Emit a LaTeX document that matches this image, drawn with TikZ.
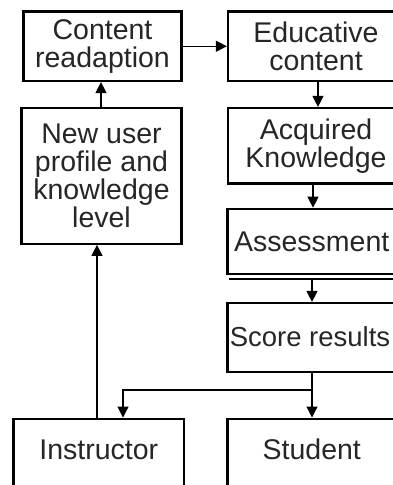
\documentclass[tikz,border=0pt]{standalone}
\usepackage{fontspec}
\setmainfont{Liberation Sans}
\usetikzlibrary{arrows.meta,calc}
\begin{document}
\begin{tikzpicture}[x=1pt,y=-1pt,
  box/.style={draw=black, line width=2.2pt, rectangle, inner sep=0pt, align=center,
    font=\fontsize{28.5}{28}\selectfont, text=black!85},
  arr/.style={draw=black, line width=1.2pt, -{Triangle[length=11pt,width=11pt]}},
  shadowline/.style={draw=black, line width=2pt}]
\useasboundingbox (0,0) rectangle (393,485);
\clip (0,0) rectangle (393,485);
\fill[white] (0,0) rectangle (393,485);
% boxes
\node[box, minimum width=158pt, minimum height=69.5pt] (cr) at (102.5,46.25) {Content\\readaption};
\node[box, minimum width=176pt, minimum height=69.5pt] (ec) at (316,46.25) {Educative\\content};
\node[box, minimum width=160pt, minimum height=136pt] (nu) at (101.5,175.75) {New user\\profile and\\knowledge\\level};
\node[box, minimum width=176pt, minimum height=75.5pt] (ak) at (316,145.75) {Acquired\\Knowledge};
\node[box, minimum width=168.5pt, minimum height=65.5pt] (as) at (311.75,241.5) {Assessment};
\node[box, minimum width=168.5pt, minimum height=69pt] (sr) at (311.75,337.5) {};
\node[font=\fontsize{27.5}{28}\selectfont, text=black!85, inner sep=0pt] (srt) at (310,336.5) {Score results};
\node[box, anchor=north, minimum width=170.5pt, text height=41pt, text depth=60pt] (ins) at (98.75,417.5) {Instructor};
\node[box, anchor=north, minimum width=168.5pt, text height=41pt, text depth=60pt] (st) at (311.75,417.5) {Student};
% shadow under Assessment
\draw[shadowline] ([shift={(3,3.6)}]as.south west) -- ([shift={(3,3.6)}]as.south east);
% connector columns
\coordinate (c1) at (318,0);
\coordinate (c2) at (313,0);
\coordinate (c3) at (312,0);
\coordinate (c4) at (123,0);
\coordinate (c5) at (97,0);
\coordinate (c6) at (101,0);
\coordinate (j) at (312,390);
\coordinate (k) at (123,390);
% connectors
\draw[arr] (cr.east) -- (ec.west);
\draw[arr] (c1 |- ec.south) -- (c1 |- ak.north);
\draw[arr] (c2 |- ak.south) -- (c2 |- as.north);
\draw[arr] ($(c3 |- as.south)+(0,4)$) -- (c3 |- sr.north);
\draw[arr] (c3 |- sr.south) -- (c3 |- st.north);
\draw[arr] (j) -- (k) -- (c4 |- ins.north);
\draw[arr] (c5 |- ins.north) -- (c5 |- nu.south);
\draw[arr] (c6 |- nu.north) -- (c6 |- cr.south);
\end{tikzpicture}
\end{document}
